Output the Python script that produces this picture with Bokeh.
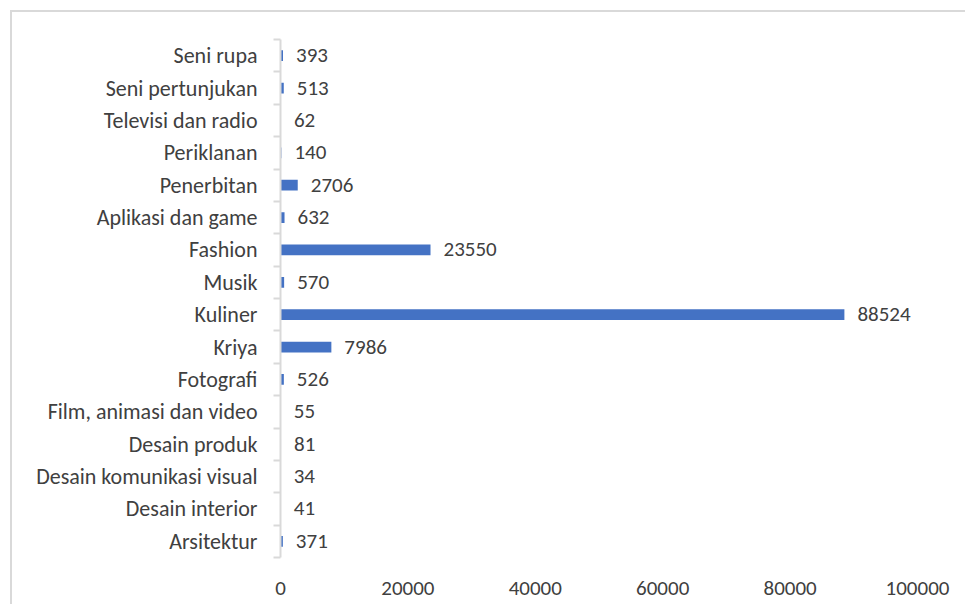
from bokeh.plotting import figure
from bokeh.models import (Range1d, LinearAxis, FixedTicker, ColumnDataSource,
                          NumeralTickFormatter)
from bokeh.core.properties import value
from bokeh.embed import file_html
from bokeh.resources import INLINE

categories = ["Arsitektur", "Desain interior", "Desain komunikasi visual",
              "Desain produk", "Film, animasi dan video", "Fotografi", "Kriya",
              "Kuliner", "Musik", "Fashion", "Aplikasi dan game", "Penerbitan",
              "Periklanan", "Televisi dan radio", "Seni pertunjukan", "Seni rupa"]
values = [371, 41, 34, 81, 55, 526, 7986, 88524, 570, 23550, 632, 2706,
          140, 62, 513, 393]
x_ticks = [0, 20000, 40000, 60000, 80000, 100000]

FONT_NAME = "Carlito, Lato, sans-serif"
FONT = value(FONT_NAME)
TXT = "#404040"
GRAY = "#d9d9d9"

n = len(categories)
pos = [i + 0.5 for i in range(n)]
src = ColumnDataSource(dict(pos=pos, val=values,
                            label=[str(v) for v in values]))

p = figure(width=955, height=594,
           x_range=Range1d(0, 100000), y_range=Range1d(0, n),
           y_axis_location=None,
           output_backend="svg", toolbar_location=None,
           min_border_left=268, min_border_right=50,
           min_border_top=27, min_border_bottom=49)
p.margin = (10, 0, 0, 10)
p.styles = {"border-top": "2px solid #d9d9d9", "border-left": "2px solid #d9d9d9"}
p.outline_line_color = None
p.grid.grid_line_color = None

# category axis: labels at band centres, minor ticks at band boundaries
cat_axis = LinearAxis(ticker=FixedTicker(ticks=pos, minor_ticks=list(range(n + 1))),
                      major_label_overrides={pp: c for pp, c in zip(pos, categories)})
cat_axis.axis_line_color = GRAY
cat_axis.axis_line_width = 2
cat_axis.major_tick_line_color = None
cat_axis.major_tick_out = 0
cat_axis.major_tick_in = 0
cat_axis.minor_tick_out = 7
cat_axis.minor_tick_in = 0
cat_axis.minor_tick_line_color = GRAY
cat_axis.minor_tick_line_width = 2
cat_axis.major_label_standoff = 16
cat_axis.major_label_text_font = FONT_NAME
cat_axis.major_label_text_font_size = "22px"
cat_axis.major_label_text_color = TXT
p.add_layout(cat_axis, "left")

xa = p.xaxis[0]
xa.ticker = FixedTicker(ticks=x_ticks)
xa.formatter = NumeralTickFormatter(format="0")
xa.axis_line_color = None
xa.major_tick_line_color = None
xa.minor_tick_line_color = None
xa.major_tick_out = 0
xa.major_tick_in = 0
xa.major_label_standoff = 24
xa.major_label_text_font = FONT_NAME
xa.major_label_text_font_size = "21px"
xa.major_label_text_color = TXT

p.hbar(y="pos", left=0, right="val", height=0.33, source=src,
       fill_color="#4472C4", line_color=None)
p.text(x="val", y="pos", text="label", source=src, x_offset=13,
       text_align="left", text_baseline="middle",
       text_font=FONT, text_font_size="21px", text_color=TXT)

open("out.html", "w").write(file_html(p, INLINE))
